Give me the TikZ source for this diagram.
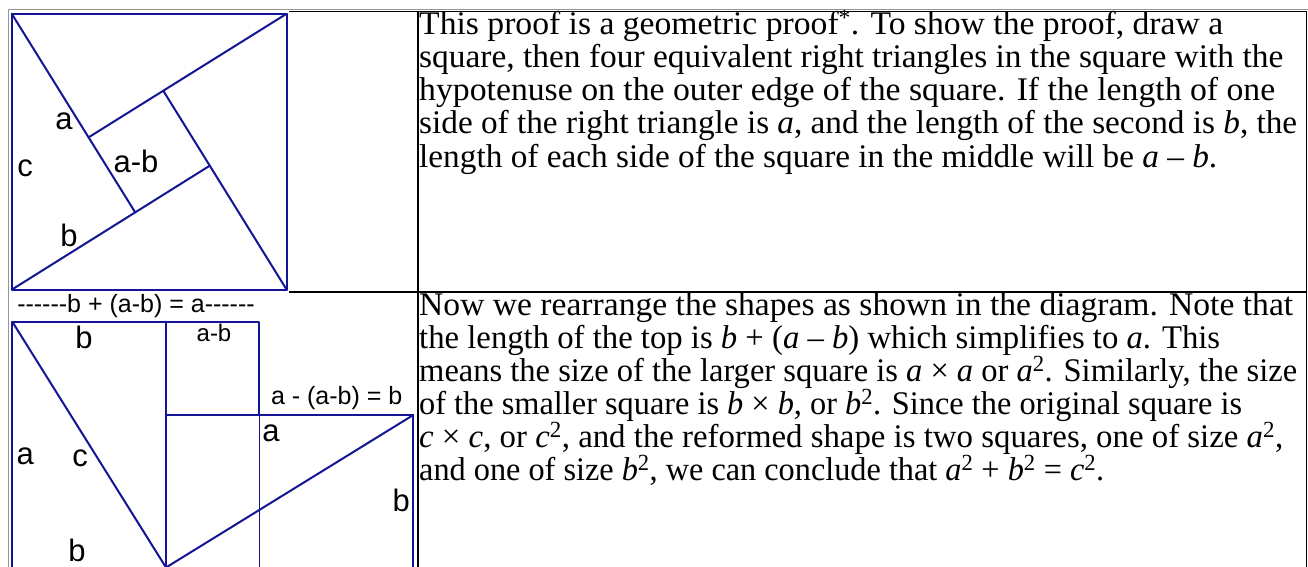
\documentclass[tikz,border=0pt]{standalone}
\usepackage{fontspec}
\setmainfont{Liberation Serif}
\newfontfamily\arialf{Liberation Sans}
\usepackage{graphicx}
\definecolor{diagblue}{RGB}{20,20,150}
\definecolor{bordergray}{RGB}{150,150,150}
\newcommand{\fitline}[2]{\resizebox{#1pt}{\height}{#2}}
\tikzset{
  geo/.style={draw=diagblue, line width=2pt, line cap=round, line join=round},
  geothin/.style={draw=diagblue, line width=1pt},
  biglabel/.style={font=\arialf\fontsize{31}{31}\selectfont, inner sep=0pt, anchor=base},
  smalllabel/.style={font=\arialf\fontsize{25}{25}\selectfont, inner sep=0pt, anchor=base},
  bodyline/.style={font=\fontsize{33}{33}\selectfont, inner sep=0pt, anchor=base west},
  tableline/.style={draw=black, line width=1.5pt},
  outerline/.style={draw=bordergray, line width=1pt},
}
\begin{document}
\begin{tikzpicture}[x=1pt,y=-1pt]
\useasboundingbox (0,0) rectangle (1308,567);
\fill[white] (0,0) rectangle (1308,567);
\clip (0,0) rectangle (1308,567);

% ---- table borders ----
\draw[outerline] (8.3,580) -- (8.3,9.3) -- (1308,9.3);
\draw[tableline] (289,11.3) -- (1306.7,11.3);
\draw[tableline, line width=1.2pt] (1306.7,11.3) -- (1306.7,580);
\draw[tableline, line width=2pt] (417.8,11.3) -- (417.8,580);
\draw[tableline] (289,292) -- (1306.7,292);

% ---- top diagram: pinwheel ----
\coordinate (TL) at (11.7,13.7);
\coordinate (TR) at (286.7,13.7);
\coordinate (BR) at (286.7,289.7);
\coordinate (BL) at (11.7,289.7);
\coordinate (A) at (88.5,137.4);
\coordinate (B) at (163.3,90.8);
\coordinate (C) at (209.9,165.6);
\coordinate (D) at (135.1,212.2);
\draw[geo] (TL) -- (TR) -- (BR) -- (BL) -- cycle;
\draw[geo] (TL) -- (D);
\draw[geo] (BL) -- (C);
\draw[geo] (BR) -- (B);
\draw[geo] (TR) -- (A);

\node[biglabel] (la1) at (64,129) {a};
\node[biglabel] (lc1) at (25,176) {c};
\node[biglabel] (lab1) at (136,172.7) {a-b};
\node[biglabel] (lb1) at (69,246) {b};

% ---- bottom diagram: rearranged ----
\coordinate (P1) at (12.3,321.7);
\coordinate (P2) at (166,321.7);
\coordinate (P3) at (259.3,321.7);
\coordinate (Q2) at (166,415);
\coordinate (Q3) at (259.3,415);
\coordinate (Q4) at (413.3,415);
\coordinate (R1) at (12.3,567.5);
\coordinate (R2) at (166,567.5);
\coordinate (R3) at (259.3,567.5);
\coordinate (R4) at (413.3,567.5);
\draw[geo] (R1) -- (P1) -- (P3) -- (Q3);
\draw[geo] (P2) -- (R2);
\draw[geo, line width=2.6pt] (Q2) -- (Q3);
\draw[geo, line width=1.5pt] (Q3) -- (Q4);
\draw[geo] (Q4) -- (R4);
\draw[geothin] (Q3) -- (R3);
\draw[geo] (P1) -- (R2) -- (Q4);

\node[smalllabel] (lsum) at (136,312.3) {------b + (a-b) = a------};
\node[biglabel] (lb2) at (84,348.3) {b};
\node[smalllabel, font=\arialf\fontsize{24}{24}\selectfont] (lab2) at (214,341.7) {a-b};
\node[smalllabel] (ldiff) at (336.7,404) {a - (a-b) = b};
\node[biglabel] (la2r) at (271,441.7) {a};
\node[biglabel] (la2l) at (25.3,464.3) {a};
\node[biglabel] (lc2) at (80,466.7) {c};
\node[biglabel] (lb2r) at (401.3,511.7) {b};
\node[biglabel] (lb2b) at (77,561.7) {b};

% ---- text, row 1 ----
\node[bodyline] (t1) at (419,35) {\fitline{804}{This proof is a geometric proof\textsuperscript{*}. To show the proof, draw a}};
\node[bodyline] (t2) at (419,68) {\fitline{864}{square, then four equivalent right triangles in the square with the}};
\node[bodyline] (t3) at (419,101) {\fitline{856}{hypotenuse on the outer edge of the square. If the length of one}};
\node[bodyline] (t4) at (419,134) {\fitline{878}{side of the right triangle is \textit{a}, and the length of the second is \textit{b}, the}};
\node[bodyline] (t5) at (419,167) {\fitline{798}{length of each side of the square in the middle will be \textit{a} – \textit{b}.}};

% ---- text, row 2 ----
\node[bodyline] (u1) at (419,315) {\fitline{874}{Now we rearrange the shapes as shown in the diagram. Note that}};
\node[bodyline] (u2) at (419,348) {\fitline{801}{the length of the top is \textit{b} + (\textit{a} – \textit{b}) which simplifies to \textit{a}. This}};
\node[bodyline] (u3) at (419,381) {\fitline{878}{means the size of the larger square is \textit{a} × \textit{a} or \textit{a}\textsuperscript{2}. Similarly, the size}};
\node[bodyline] (u4) at (419,414) {\fitline{823}{of the smaller square is \textit{b} × \textit{b}, or \textit{b}\textsuperscript{2}. Since the original square is}};
\node[bodyline] (u5) at (419,447) {\fitline{864}{\textit{c} × \textit{c}, or \textit{c}\textsuperscript{2}, and the reformed shape is two squares, one of size \textit{a}\textsuperscript{2},}};
\node[bodyline] (u6) at (419,480) {\fitline{685}{and one of size \textit{b}\textsuperscript{2}, we can conclude that \textit{a}\textsuperscript{2} + \textit{b}\textsuperscript{2} = \textit{c}\textsuperscript{2}.}};
\end{tikzpicture}
\end{document}
